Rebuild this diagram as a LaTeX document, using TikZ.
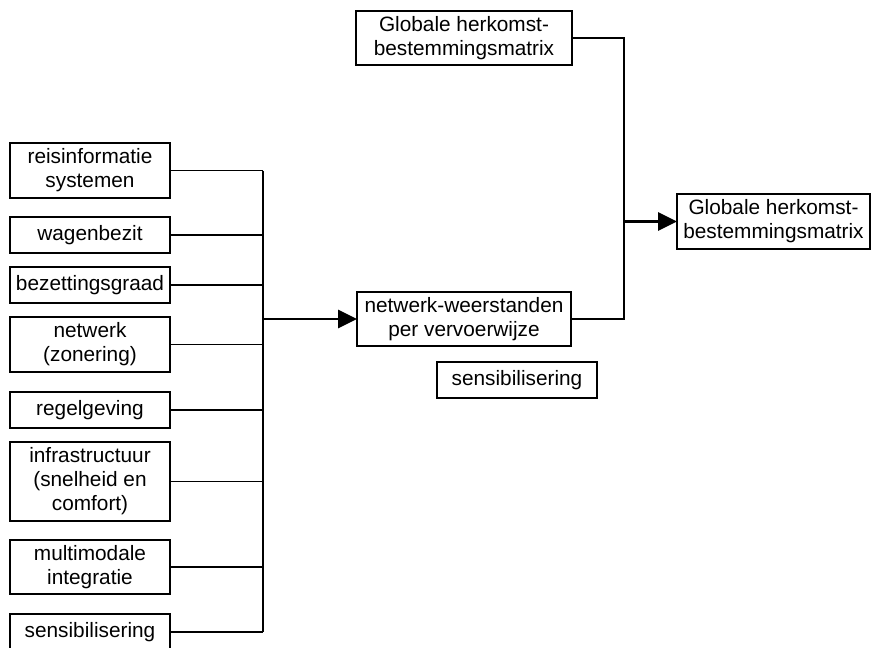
\documentclass[tikz,border=0pt]{standalone}
\usepackage{fontspec}
\setmainfont{Liberation Sans}
\usetikzlibrary{positioning,arrows.meta}

\begin{document}
\begin{tikzpicture}[
    x=1pt, y=-1pt,
    node distance=14pt,
    box/.style={draw, line width=1.6pt, rectangle, align=center, inner sep=0pt, outer sep=0pt, minimum width=160pt, minimum height=36pt, font=\fontsize{20.8}{24}\selectfont},
    line/.style={line width=1.6pt},
    arrow/.style={-{Triangle[length=19pt, width=18pt]}, line width=2.8pt}
]
\useasboundingbox (0,0) rectangle (871,648);

% Linkerkolom (boven -> onder)
\node[box, minimum height=55pt] (reis) at (90,170.5) {reisinformatie\\systemen};
\node[box, below=19pt of reis] (wagen) {wagenbezit};
\node[box, below=of wagen] (bezet) {bezettingsgraad};
\node[box, minimum height=55pt, below=of bezet] (netwerk) {netwerk\\(zonering)};
\node[box, below=20pt of netwerk] (regel) {regelgeving};
\node[box, minimum height=79pt, below=of regel] (infra) {infrastructuur\\(snelheid en\\comfort)};
\node[box, minimum height=54pt, below=19pt of infra] (multi) {multimodale\\integratie};
\node[box, below=20pt of multi] (sensib) {sensibilisering};

% Midden en rechts
\node[box, minimum width=214pt, minimum height=54pt] (weerst) at (464,319) {netwerk-weerstanden\\per vervoerwijze};
\node[box, below=16pt of weerst.south, anchor=north, xshift=53pt] (sensib2) {sensibilisering};
\node[box, minimum width=216pt, minimum height=54pt] (hbtop) at (464,38) {Globale herkomst-\\bestemmingsmatrix};
\node[box, minimum width=193pt, minimum height=55pt] (hbout) at (773.5,221.5) {Globale herkomst-\\bestemmingsmatrix};

\coordinate (bus) at (263,0);
\coordinate (merge) at (624,0);

% Verzamellijn links
\foreach \n in {reis,wagen,bezet,netwerk,regel,infra,multi,sensib}
    \draw[line] (\n.east) -- (\n.east -| bus);
\draw[line] (reis.east -| bus) -- (sensib.east -| bus);
\draw[arrow] (bus |- weerst.west) -- (weerst.west);

% Samenvoegen rechts
\draw[line] (hbtop.east) -- (hbtop.east -| merge) -- (weerst.east -| merge) -- (weerst.east);
\draw[arrow] (merge |- hbout.west) -- (hbout.west);

\end{tikzpicture}
\end{document}
